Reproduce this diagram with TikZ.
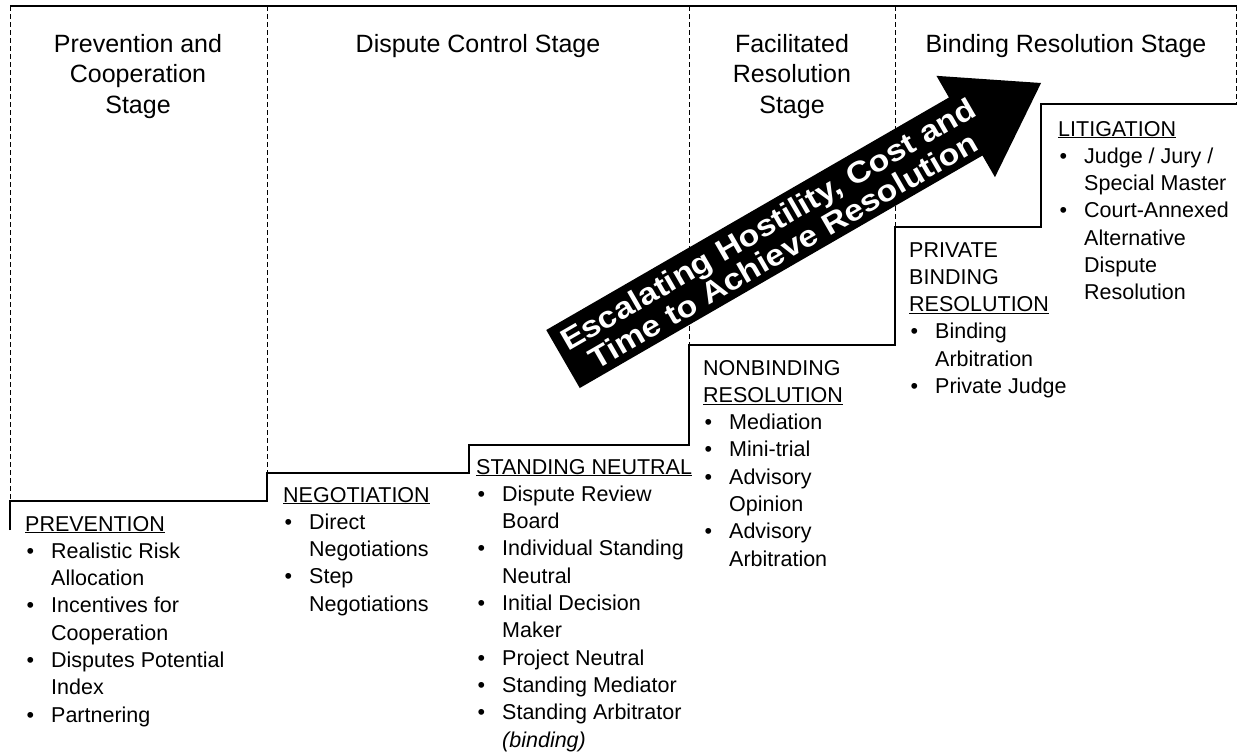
\documentclass[tikz,border=0pt]{standalone}
\usepackage{graphicx}
\usepackage{fontspec}
\setmainfont{Liberation Sans}
\usetikzlibrary{positioning,calc}

\newcommand{\hdfont}{\fontsize{25}{30.6}\selectfont}
\newcommand{\bodyfont}{\fontsize{21.5}{27.3}\selectfont}
\newcommand{\bul}{\makebox[26pt][l]{\hspace{1.5pt}\textbullet}}
\newcommand{\cont}{\hspace*{26pt}}

\tikzset{
  stagehd/.style={inner sep=0pt, anchor=base, font=\hdfont},
  block/.style={inner sep=0pt, anchor=base west, font=\bodyfont},
  divider/.style={line width=1pt, dash pattern=on 5pt off 3pt},
  stair/.style={line width=1.4pt},
}

\begin{document}
\begin{tikzpicture}[x=1pt, y=-1pt]
    \useasboundingbox (0,0) rectangle (1239,755);

    % Frame and stage dividers
    \draw[stair] (10,6) -- (1237,6);
    \foreach \x/\y in {10/501, 267/473, 689/345, 895/227, 1236/104}
        \draw[divider] (\x,6) -- (\x,\y);

    % Staircase
    \draw[stair] (10,530) -- (10,501) -- (267,501) -- (267,473) -- (469,473) -- (469,445)
        -- (689,445) -- (689,345) -- (895,345) -- (895,227) -- (1041,227) -- (1041,104) -- (1237,104);

    % Stage headings
    \node[stagehd] (hdprev) at (138,52) {\begin{tabular}[t]{@{}c@{}}Prevention and\\Cooperation\\Stage\end{tabular}};
    \node[stagehd] (hdctrl) at (478,52) {\begin{tabular}[t]{@{}c@{}}Dispute Control Stage\end{tabular}};
    \node[stagehd] (hdfac) at (792,52) {\begin{tabular}[t]{@{}c@{}}Facilitated\\Resolution\\Stage\end{tabular}};
    \node[stagehd] (hdbind) at (1066,52) {\begin{tabular}[t]{@{}c@{}}Binding Resolution Stage\end{tabular}};

    % Methods at each step
    \node[block] (prevention) at (25,531) {\begin{tabular}[t]{@{}l@{}}
        \underline{PREVENTION}\\
        \bul Realistic Risk\\ \cont Allocation\\
        \bul Incentives for\\ \cont Cooperation\\
        \bul Disputes Potential\\ \cont Index\\
        \bul Partnering
    \end{tabular}};
    \node[block] (negotiation) at (283,502) {\begin{tabular}[t]{@{}l@{}}
        \underline{NEGOTIATION}\\
        \bul Direct\\ \cont Negotiations\\
        \bul Step\\ \cont Negotiations
    \end{tabular}};
    \node[block] (standing) at (476,474) {\begin{tabular}[t]{@{}l@{}}
        \underline{STANDING NEUTRAL}\\
        \bul Dispute Review\\ \cont Board\\
        \bul Individual Standing\\ \cont Neutral\\
        \bul Initial Decision\\ \cont Maker\\
        \bul Project Neutral\\
        \bul Standing Mediator\\
        \bul Standing Arbitrator\\ \cont \textit{(binding)}
    \end{tabular}};
    \node[block] (nonbinding) at (703,375) {\begin{tabular}[t]{@{}l@{}}
        NONBINDING\\ \underline{RESOLUTION}\\
        \bul Mediation\\
        \bul Mini-trial\\
        \bul Advisory\\ \cont Opinion\\
        \bul Advisory\\ \cont Arbitration
    \end{tabular}};
    \node[block] (privbind) at (909,257) {\begin{tabular}[t]{@{}l@{}}
        PRIVATE\\ BINDING\\ \underline{RESOLUTION}\\
        \bul Binding\\ \cont Arbitration\\
        \bul Private Judge
    \end{tabular}};
    \node[block] (litigation) at (1058,136) {\begin{tabular}[t]{@{}l@{}}
        \underline{LITIGATION}\\
        \bul Judge / Jury /\\ \cont Special Master\\
        \bul Court-Annexed\\ \cont Alternative\\ \cont Dispute\\ \cont Resolution
    \end{tabular}};

    % Escalation arrow
    \begin{scope}[shift={(563,359)}, rotate=30]
        \fill (0,-33.5) -- (465,-33.5) -- (465,-58.5) -- (552,0) -- (465,58.5) -- (465,33.5) -- (0,33.5) -- cycle;
        \node[rotate=30, inner sep=0pt, text=white, font=\fontsize{30}{29}\selectfont\bfseries] (escal) at (245,5)
            {\scalebox{1.13}[1]{\begin{tabular}{@{}c@{}}Escalating Hostility, Cost and\\Time to Achieve Resolution\end{tabular}}};
    \end{scope}
\end{tikzpicture}
\end{document}
